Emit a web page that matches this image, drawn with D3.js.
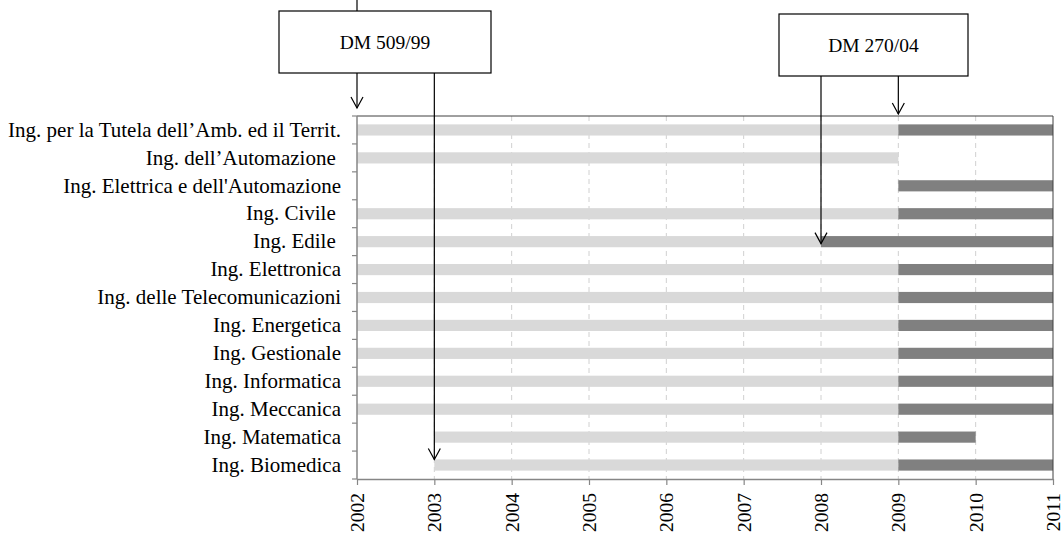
<!DOCTYPE html>
<html>
<head>
<meta charset="utf-8">
<script src="https://cdn.jsdelivr.net/npm/d3@7"></script>
<style>
  html, body { margin: 0; padding: 0; background: #fff; }
  svg { display: block; font-family: "Liberation Serif", "Times New Roman", serif; }
  text { white-space: pre; }
</style>
</head>
<body>
<svg id="chart" width="1063" height="535"></svg>
<script>
// corsi di laurea, dall'alto in basso
const courses = [
  'Ing. per la Tutela dell\u2019Amb. ed il Territ.',
  'Ing. dell\u2019Automazione ',
  "Ing. Elettrica e dell'Automazione",
  'Ing. Civile ',
  'Ing. Edile ',
  'Ing. Elettronica',
  'Ing. delle Telecomunicazioni',
  'Ing. Energetica',
  'Ing. Gestionale',
  'Ing. Informatica',
  'Ing. Meccanica',
  'Ing. Matematica',
  'Ing. Biomedica',
];

// ordinamento DM 509/99: [inizio, fine] (null = assente)
const oldStart = [2002, 2002, null, 2002, 2002, 2002, 2002, 2002, 2002, 2002, 2002, 2003, 2003];
const oldEnd   = [2009, 2009, null, 2009, 2008, 2009, 2009, 2009, 2009, 2009, 2009, 2009, 2009];
// ordinamento DM 270/04
const newStart = [2009, null, 2009, 2009, 2008, 2009, 2009, 2009, 2009, 2009, 2009, 2009, 2009];
const newEnd   = [2011, null, 2011, 2011, 2011, 2011, 2011, 2011, 2011, 2011, 2011, 2010, 2011];

const years = [2002, 2003, 2004, 2005, 2006, 2007, 2008, 2009, 2010, 2011];

const FONT = '"Liberation Serif", "Times New Roman", serif';

const svg = d3.select('#chart');

const x = d3.scaleLinear().domain([2002, 2011]).range([357, 1053]);
const y = d3.scaleBand().domain(courses).range([116, 479]);
const barH = y.bandwidth() * 0.4;

const lightGray = '#d9d9d9';
const darkGray = '#808080';
const axisGray = '#868686';

// griglia verticale tratteggiata
svg.append('g')
  .selectAll('line')
  .data(years.slice(1, -1))
  .join('line')
  .attr('x1', (d) => x(d))
  .attr('x2', (d) => x(d))
  .attr('y1', 116)
  .attr('y2', 479)
  .attr('stroke', '#d0d0d0')
  .attr('stroke-dasharray', '5,4');

const rows = courses.map((c, i) => ({
  course: c,
  oldStart: oldStart[i], oldEnd: oldEnd[i],
  newStart: newStart[i], newEnd: newEnd[i],
}));

svg.append('g')
  .selectAll('rect')
  .data(rows.filter((d) => d.oldStart !== null))
  .join('rect')
  .attr('x', (d) => x(d.oldStart))
  .attr('width', (d) => x(d.oldEnd) - x(d.oldStart))
  .attr('y', (d) => y(d.course) + (y.bandwidth() - barH) / 2)
  .attr('height', barH)
  .attr('fill', lightGray);

svg.append('g')
  .selectAll('rect')
  .data(rows.filter((d) => d.newStart !== null))
  .join('rect')
  .attr('x', (d) => x(d.newStart))
  .attr('width', (d) => x(d.newEnd) - x(d.newStart))
  .attr('y', (d) => y(d.course) + (y.bandwidth() - barH) / 2)
  .attr('height', barH)
  .attr('fill', darkGray);

// cornice superiore e destra
svg.append('path')
  .attr('d', `M${x(2002)},116H${x(2011)}V479`)
  .attr('fill', 'none')
  .attr('stroke', '#404040')
  .attr('stroke-width', 1);

// asse x
const xAxis = svg.append('g')
  .attr('transform', 'translate(0,479)')
  .call(d3.axisBottom(x).tickValues(years).tickFormat((d) => d).tickSize(6).tickSizeOuter(0));
xAxis.select('.domain').attr('stroke', axisGray).attr('stroke-width', 1.5);
xAxis.selectAll('.tick line').attr('stroke', axisGray).attr('stroke-width', 1.2);
xAxis.selectAll('.tick text')
  .attr('font-family', FONT)
  .attr('font-size', '19.5px')
  .attr('fill', '#000')
  .attr('text-anchor', 'end')
  .attr('transform', 'translate(0,14) rotate(-90)')
  .attr('x', 0)
  .attr('y', 0)
  .attr('dy', '0.34em');

// asse y
const yAxis = svg.append('g')
  .attr('transform', `translate(${x(2002)},0)`)
  .call(d3.axisLeft(y).tickSize(0).tickPadding(16));
yAxis.select('.domain').remove();
yAxis.selectAll('.tick text')
  .attr('font-family', FONT)
  .attr('font-size', '21px')
  .attr('fill', '#000');

const bounds = courses.map((c) => y(c)).concat([y.range()[1]]);
svg.append('g')
  .selectAll('line')
  .data(bounds)
  .join('line')
  .attr('x1', x(2002) - 5)
  .attr('x2', x(2002))
  .attr('y1', (d) => d)
  .attr('y2', (d) => d)
  .attr('stroke', axisGray)
  .attr('stroke-width', 1.2);
svg.append('line')
  .attr('x1', x(2002)).attr('x2', x(2002))
  .attr('y1', 116).attr('y2', 479)
  .attr('stroke', axisGray).attr('stroke-width', 1.5);

// richiami
function arrow(xp, y0, y1) {
  svg.append('line')
    .attr('x1', xp).attr('x2', xp).attr('y1', y0).attr('y2', y1)
    .attr('stroke', '#000').attr('stroke-width', 1.2);
  svg.append('path')
    .attr('d', `M${xp - 6},${y1 - 11}L${xp},${y1}L${xp + 6},${y1 - 11}`)
    .attr('fill', 'none').attr('stroke', '#000').attr('stroke-width', 1.2);
}
function box(x0, y0, w, h, label) {
  svg.append('rect')
    .attr('x', x0).attr('y', y0).attr('width', w).attr('height', h)
    .attr('fill', '#fff').attr('stroke', '#000').attr('stroke-width', 1.2);
  svg.append('text')
    .attr('x', x0 + w / 2).attr('y', y0 + h / 2)
    .attr('dy', '0.35em')
    .attr('text-anchor', 'middle')
    .attr('font-family', FONT)
    .attr('font-size', '19.5px')
    .text(label);
}

const barTop = (c) => y(c) + (y.bandwidth() - barH) / 2;

svg.append('line')
  .attr('x1', x(2002)).attr('x2', x(2002)).attr('y1', 0).attr('y2', 11)
  .attr('stroke', '#000').attr('stroke-width', 1.2);
box(279, 11, 212, 62, 'DM 509/99');
arrow(x(2002), 73, 108);
arrow(x(2003), 73, barTop(courses[12]));

box(779, 14, 189, 62, 'DM 270/04');
arrow(x(2009), 76, 114);
arrow(x(2008), 76, y(courses[4]) + y.bandwidth() / 2 + 2);
</script>
</body>
</html>
